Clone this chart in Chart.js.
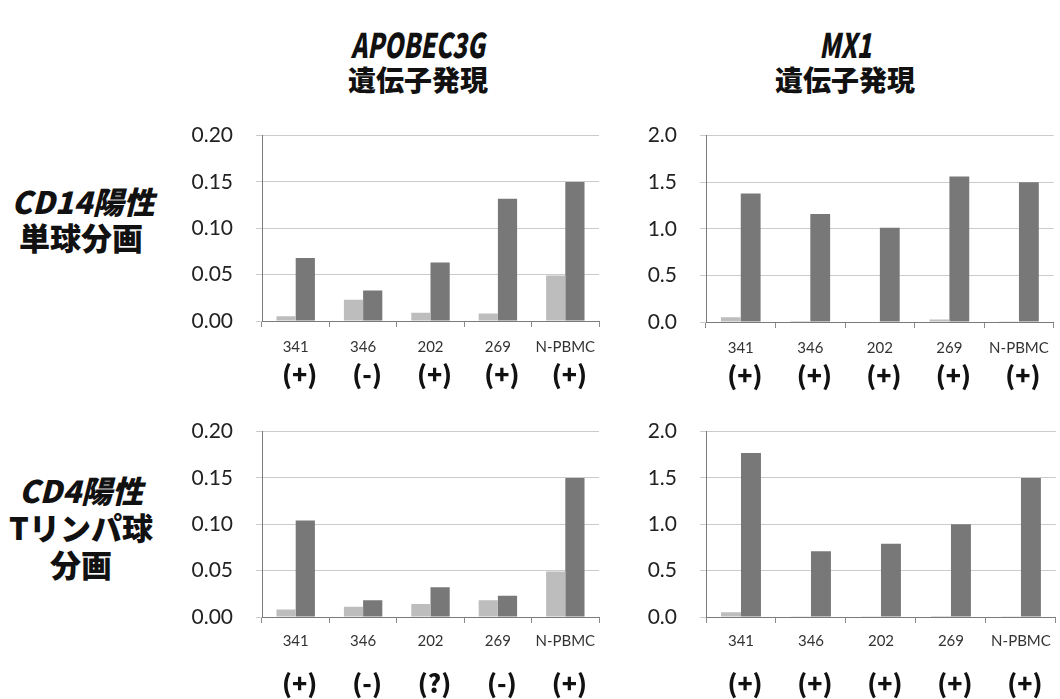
<!DOCTYPE html>
<html>
<head>
<meta charset="utf-8">
<script src="https://cdn.jsdelivr.net/npm/chart.js@4.4.1/dist/chart.umd.min.js"></script>
<style>
  html, body { margin: 0; padding: 0; background: #fff; }
  body { width: 1060px; height: 699px; position: relative; overflow: hidden;
         font-family: "Noto Sans CJK JP", sans-serif; color: #111; }
  canvas { position: absolute; }
  .lbl { position: absolute; white-space: nowrap; font-weight: 900; text-align: center; }
  .lbl span { display: inline-block; }
</style>
</head>
<body>
<!-- column headings -->
<div class="lbl" style="left:318px; width:200px; top:26px; height:36px; line-height:36px; font-size:34px;"><span style="transform:scaleX(0.72); font-style:italic;">APOBEC3G</span></div>
<div class="lbl" style="left:318px; width:200px; top:63px; height:32px; line-height:32px; font-size:28px;"><span>遺伝子発現</span></div>
<div class="lbl" style="left:745px; width:200px; top:26px; height:36px; line-height:36px; font-size:34px;"><span style="transform:scaleX(0.72); font-style:italic;">MX1</span></div>
<div class="lbl" style="left:745px; width:200px; top:63px; height:32px; line-height:32px; font-size:28px;"><span>遺伝子発現</span></div>

<!-- row headings -->
<div class="lbl" style="left:0px; width:166px; top:185px; height:32px; line-height:32px; font-size:31px;"><span style="font-style:italic;">CD14陽性</span></div>
<div class="lbl" style="left:0px; width:162px; top:221px; height:32px; line-height:32px; font-size:31px;"><span>単球分画</span></div>
<div class="lbl" style="left:0px; width:162px; top:474px; height:32px; line-height:32px; font-size:31px;"><span style="font-style:italic;">CD4陽性</span></div>
<div class="lbl" style="left:0px; width:162px; top:511px; height:32px; line-height:32px; font-size:31px;"><span>Tリンパ球</span></div>
<div class="lbl" style="left:0px; width:162px; top:548px; height:32px; line-height:32px; font-size:31px;"><span>分画</span></div>

<canvas id="c1" width="460" height="300" style="left:150px; top:100px;"></canvas>
<canvas id="c2" width="460" height="300" style="left:600px; top:100px;"></canvas>
<canvas id="c3" width="460" height="303" style="left:150px; top:396px;"></canvas>
<canvas id="c4" width="460" height="303" style="left:600px; top:396px;"></canvas>

<script>
// Samples along the x axis
const categories = ['341', '346', '202', '269', 'N-PBMC'];

// APOBEC3G expression, CD14+ monocyte fraction
const apobecCD14Light = [0.005, 0.023, 0.009, 0.008, 0.049];
const apobecCD14Dark  = [0.068, 0.033, 0.063, 0.132, 0.150];
// MX1 expression, CD14+ monocyte fraction
const mx1CD14Light = [0.05, 0.01, 0.005, 0.027, 0.004];
const mx1CD14Dark  = [1.38, 1.16, 1.01, 1.56, 1.50];
// APOBEC3G expression, CD4+ T lymphocyte fraction
const apobecCD4Light = [0.008, 0.011, 0.014, 0.018, 0.049];
const apobecCD4Dark  = [0.104, 0.018, 0.032, 0.023, 0.150];
// MX1 expression, CD4+ T lymphocyte fraction
const mx1CD4Light = [0.05, 0.002, 0.003, 0.01, 0.003];
const mx1CD4Dark  = [1.77, 0.71, 0.79, 1.00, 1.50];

// Status marks printed under each sample
const apobecCD14Status = ['(+)', '(-)', '(+)', '(+)', '(+)'];
const mx1CD14Status    = ['(+)', '(+)', '(+)', '(+)', '(+)'];
const apobecCD4Status  = ['(+)', '(-)', '(?)', '(-)', '(+)'];
const mx1CD4Status     = ['(+)', '(+)', '(+)', '(+)', '(+)'];

// Value axis ranges
const apobecAxis = { max: 0.20, step: 0.05, decimals: 2 };
const mx1Axis    = { max: 2.0,  step: 0.5,  decimals: 1 };

Chart.defaults.font.family = 'Lato, "Open Sans", sans-serif';
Chart.defaults.color = '#222';

// Draws the bold status marks beneath the category labels
const statusRow = {
  id: 'statusRow',
  afterDraw(chart, args, opts) {
    const labels = opts.labels;
    if (!labels) return;
    const xs = chart.scales.x;
    const ctx = chart.ctx;
    ctx.save();
    ctx.font = '900 25px "Noto Sans CJK JP", sans-serif';
    ctx.fillStyle = '#111';
    ctx.textAlign = 'center';
    ctx.textBaseline = 'middle';
    labels.forEach((t, i) => {
      ctx.fillText(t, xs.getPixelForValue(i) + opts.dx, chart.chartArea.bottom + opts.dy);
    });
    ctx.restore();
  }
};

function makeChart(id, light, dark, axis, status, geom) {
  return new Chart(document.getElementById(id), {
    type: 'bar',
    data: {
      labels: categories,
      datasets: [
        { data: light, backgroundColor: '#bdbdbd', borderWidth: 0 },
        { data: dark,  backgroundColor: '#787878', borderWidth: 0 }
      ]
    },
    options: {
      responsive: false,
      animation: false,
      events: [],
      categoryPercentage: 0.57,
      barPercentage: 1.0,
      layout: { padding: { top: geom.top, right: geom.right, left: 0, bottom: 0 } },
      plugins: {
        legend: { display: false },
        tooltip: { enabled: false },
        statusRow: { labels: status, dx: 4, dy: geom.statusDy }
      },
      scales: {
        x: {
          afterFit(s) { s.height = geom.xHeight; },
          grid: { offset: true, drawOnChartArea: false, drawTicks: true, tickLength: 6, color: '#8a8a8a' },
          border: { color: '#7a7a7a', width: 1 },
          ticks: { font: { size: 15 }, padding: geom.xPad, color: '#333', maxRotation: 0, autoSkip: false }
        },
        y: {
          min: 0,
          max: axis.max,
          afterFit(s) { s.width = geom.yWidth; },
          grid: { color: '#cbcbcb', lineWidth: 1, drawTicks: true, tickLength: 6 },
          border: { color: '#7a7a7a', width: 1 },
          ticks: {
            stepSize: axis.step,
            padding: 23,
            font: { size: 21 },
            color: '#222',
            callback: v => Number(v).toFixed(axis.decimals)
          }
        }
      }
    },
    plugins: [statusRow]
  });
}

makeChart('c1', apobecCD14Light, apobecCD14Dark, apobecAxis, apobecCD14Status,
  { top: 26, right: 11, yWidth: 112, xHeight: 79, xPad: 11, statusDy: 53 });
makeChart('c2', mx1CD14Light, mx1CD14Dark, mx1Axis, mx1CD14Status,
  { top: 26, right: 2, yWidth: 106, xHeight: 78, xPad: 11, statusDy: 53 });
makeChart('c3', apobecCD4Light, apobecCD4Dark, apobecAxis, apobecCD4Status,
  { top: 26, right: 11, yWidth: 112, xHeight: 82, xPad: 9, statusDy: 66 });
makeChart('c4', mx1CD4Light, mx1CD4Dark, mx1Axis, mx1CD4Status,
  { top: 27, right: 2, yWidth: 106, xHeight: 82, xPad: 9, statusDy: 66 });
</script>
</body>
</html>
